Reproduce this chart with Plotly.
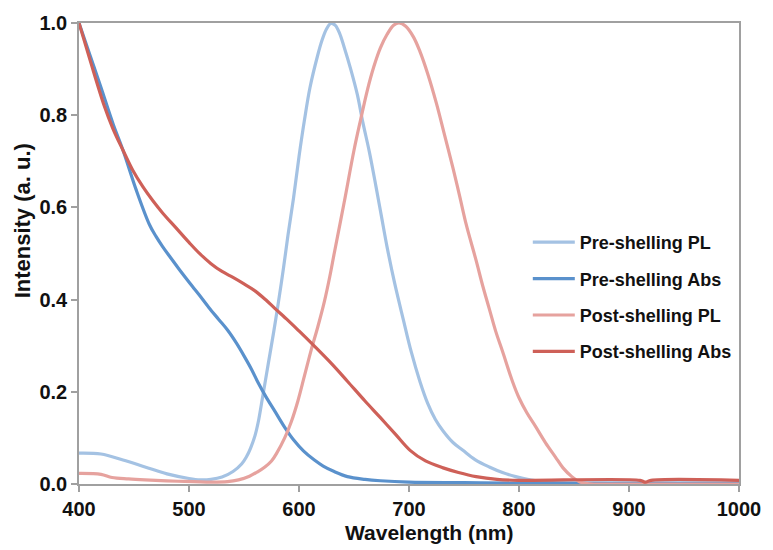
import plotly.graph_objects as go

# ---------------- data ----------------
pre_pl_x = [400, 420, 440, 460, 480, 500, 510, 520, 530, 540, 548, 552, 556, 560, 563, 567, 572, 577,
            581, 586, 590, 595, 600, 605, 610, 617, 621, 625, 629, 633, 637, 641, 647, 653, 658, 664,
            670, 675, 680, 687, 695, 702, 710, 717, 724, 731, 740, 749, 760, 773, 785, 797, 810, 825,
            840, 860, 900, 1000]
pre_pl_y = [0.067, 0.065, 0.052, 0.037, 0.022, 0.012, 0.009, 0.010, 0.015, 0.027, 0.044, 0.058, 0.078,
            0.105, 0.135, 0.19, 0.26, 0.33, 0.39, 0.47, 0.54, 0.62, 0.71, 0.79, 0.86, 0.93, 0.963,
            0.987, 0.999, 0.995, 0.977, 0.948, 0.90, 0.845, 0.785, 0.72, 0.645, 0.58, 0.515, 0.435,
            0.355, 0.287, 0.222, 0.175, 0.14, 0.115, 0.09, 0.073, 0.053, 0.037, 0.025, 0.016, 0.009,
            0.004, 0.002, 0.001, 0.001, 0.001]

pre_abs_x = [400, 410, 420, 431, 440, 452, 464, 470, 476, 482, 491, 503, 509, 518, 527, 535, 543, 550,
             557, 563, 570, 578, 587, 595, 604, 614, 622, 632, 644, 660, 674, 700, 750, 800, 1000]
pre_abs_y = [1.0, 0.93, 0.86, 0.781, 0.724, 0.638, 0.563, 0.537, 0.515, 0.495, 0.466, 0.429, 0.411,
             0.383, 0.357, 0.334, 0.306, 0.278, 0.248, 0.219, 0.189, 0.158, 0.123, 0.096, 0.072, 0.052,
             0.039, 0.027, 0.016, 0.01, 0.007, 0.004, 0.003, 0.002, 0.002]

post_pl_x = [400, 420, 430, 445, 460, 490, 520, 535, 545, 555, 562, 569, 575, 580, 587, 593, 599, 605,
             611, 617, 623, 628, 632, 641, 650, 656, 662, 668, 674, 680, 686, 691, 697, 704, 710, 717,
             725, 732, 740, 746, 752, 761, 767, 773, 779, 785, 794, 800, 807, 815, 824, 833, 840, 848,
             855, 862, 900, 1000]
post_pl_y = [0.023, 0.021, 0.014, 0.011, 0.009, 0.006, 0.004, 0.005, 0.009, 0.017, 0.026, 0.037, 0.05,
             0.068, 0.10, 0.135, 0.18, 0.235, 0.29, 0.34, 0.395, 0.45, 0.50, 0.61, 0.724, 0.79, 0.853,
             0.905, 0.946, 0.975, 0.995, 1.0, 0.993, 0.97, 0.938, 0.89, 0.825, 0.76, 0.685, 0.625,
             0.563, 0.485, 0.43, 0.38, 0.33, 0.288, 0.223, 0.187, 0.155, 0.125, 0.09, 0.059, 0.035,
             0.016, 0.005, 0.001, 0.0, 0.0]

post_abs_x = [400, 410, 423, 431, 440, 449, 458, 467, 476, 488, 500, 510, 520, 530, 540, 550, 560, 570,
              578, 590, 600, 614, 630, 644, 660, 674, 688, 701, 715, 731, 745, 761, 780, 800, 910, 915,
              920, 1000]
post_abs_y = [1.0, 0.92, 0.82, 0.77, 0.724, 0.68, 0.645, 0.615, 0.588, 0.556, 0.524, 0.499, 0.478,
              0.461, 0.448, 0.434, 0.419, 0.399, 0.381, 0.355, 0.332, 0.299, 0.26, 0.223, 0.18, 0.144,
              0.107, 0.073, 0.05, 0.035, 0.025, 0.016, 0.01, 0.008, 0.008, 0.004, 0.008, 0.008]

names = ["Pre-shelling PL", "Pre-shelling Abs", "Post-shelling PL", "Post-shelling Abs"]
colors = ["#a4c2e3", "#5a91cc", "#e6a29e", "#ce6058"]

x_ticks = [400, 500, 600, 700, 800, 900, 1000]
y_ticks = [0.0, 0.2, 0.4, 0.6, 0.8, 1.0]

FONT = "Liberation Sans, Arial, Helvetica, sans-serif"

fig = go.Figure()
series = [(pre_pl_x, pre_pl_y), (pre_abs_x, pre_abs_y), (post_pl_x, post_pl_y), (post_abs_x, post_abs_y)]
for (xs, ys), name, col in zip(series, names, colors):
    fig.add_trace(go.Scatter(x=xs, y=ys, mode="lines", name=name, legendgroup=name,
                             line=dict(color=col, width=3.2, shape="spline", smoothing=1.0)))

axis_common = dict(showline=True, linecolor="#a0a0a0", linewidth=1.5, mirror=True,
                   ticks="outside", ticklen=6, tickcolor="#a0a0a0", tickwidth=1.5,
                   showgrid=False, zeroline=False,
                   tickfont=dict(family=FONT, size=20, color="#111111", weight="bold"))

fig.update_layout(
    width=773, height=550,
    margin=dict(l=79, r=28, t=18, b=66),
    paper_bgcolor="white", plot_bgcolor="white",
    font=dict(family=FONT, color="#111111"),
    xaxis=dict(range=[400, 1000], tickvals=x_ticks, ticktext=[str(v) for v in x_ticks], **axis_common),
    yaxis=dict(range=[0, 1], tickvals=y_ticks, ticktext=[f"{v:.1f}" for v in y_ticks], **axis_common),
    legend=dict(x=0.680, y=0.564, xanchor="left", yanchor="top",
                font=dict(family=FONT, size=18, color="#111111", weight="bold"),
                tracegroupgap=10, itemwidth=42, bgcolor="rgba(0,0,0,0)"),
    showlegend=True,
)

# axis titles placed at their pixel centres (converted to paper coordinates)
pw, ph = 773 - 79 - 28, 550 - 18 - 66
titles = [("Wavelength (nm)", 432, 533, 0, 21), ("Intensity (a. u.)", 22, 218, -90, 22)]
for txt, px, py, ang, fs in titles:
    fig.add_annotation(text=txt, x=(px - 79) / pw, y=(484 - py) / ph, xref="paper", yref="paper",
                       xanchor="center", yanchor="middle", showarrow=False, textangle=ang,
                       font=dict(family=FONT, size=fs, color="#111111", weight="bold"))

fig.write_html("out.html")
